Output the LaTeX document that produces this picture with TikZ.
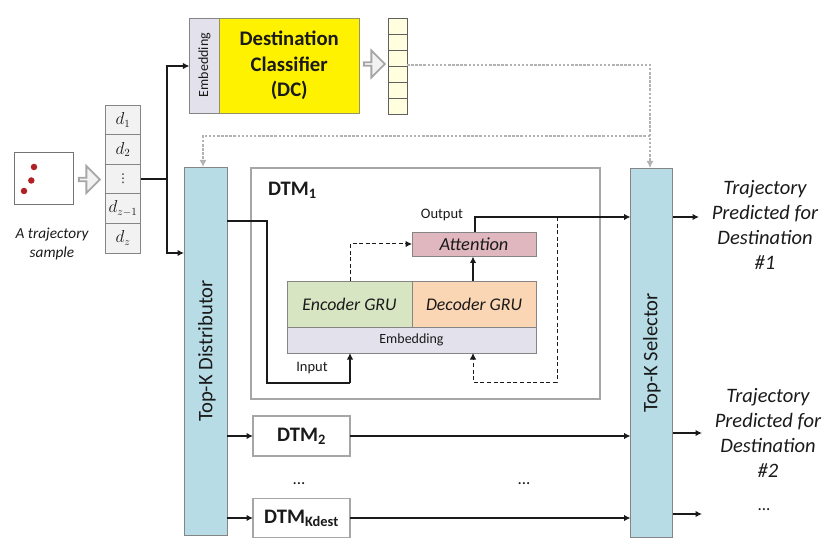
\documentclass[tikz,border=0pt]{standalone}
\usepackage{fontspec}
\setmainfont{Carlito}
\newfontfamily\symf{DejaVu Sans}
\usetikzlibrary{arrows.meta,shapes.arrows,shadows}
\definecolor{edge}{HTML}{A6A6A6}
\definecolor{inkc}{HTML}{1A1A1A}
\definecolor{embc}{HTML}{E3E1EC}
\definecolor{bluec}{HTML}{B7DCE6}
\definecolor{encc}{HTML}{D8E5C3}
\definecolor{decc}{HTML}{FBD6B5}
\definecolor{attc}{HTML}{E0B7BE}
\definecolor{cellc}{HTML}{F2F2F2}
\definecolor{creamc}{HTML}{FFFFE0}
\definecolor{dotc}{HTML}{B02025}
\tikzset{
 every node/.style={inner sep=0pt,outer sep=0pt,text=inkc},
 sized/.style n args={2}{minimum width=#1pt,minimum height=#2pt},
 cell/.style={draw=edge!80!black,line width=.8pt,fill=cellc,font=\fontsize{16}{16}\selectfont},
 cream/.style={draw=inkc!70,line width=.7pt,fill=creamc,sized={19}{16}},
 pane/.style={draw=edge!80!black,line width=.8pt},
 dtm/.style={draw=edge,line width=1.6pt,fill=white,font=\bfseries\fontsize{20.6}{20.6}\selectfont},
 flow/.style={draw=inkc,line width=1.3pt,-{Latex[length=6.5pt,width=6.5pt]}},
 plain/.style={draw=inkc,line width=1.3pt},
 dflow/.style={draw=inkc,line width=1pt,dash pattern=on 4pt off 2.6pt,-{Latex[length=6.5pt,width=6.5pt]}},
 gflow/.style={draw=edge!85,line width=1.1pt,dash pattern=on 2.5pt off 1.6pt,-{Latex[length=7pt,width=7pt]}},
 fat/.style={single arrow,draw=edge,line width=1.8pt,fill=cellc,single arrow head extend=6pt,single arrow tip angle=90,minimum width=27pt,minimum height=21pt},
 note/.style={font=\itshape\fontsize{20.5}{25}\selectfont,align=center},
 tiny/.style={font=\fontsize{14}{14}\selectfont},
 gru/.style={font=\itshape\fontsize{17.8}{17.8}\selectfont,pane},
 reddot/.style={circle,fill=dotc,minimum size=6.5pt},
}
\begin{document}
\begin{tikzpicture}[x=1pt,y=-1pt]
\useasboundingbox (0,0) rectangle (833,556);
% trajectory sample
\node[draw=edge!70!black,line width=.8pt,sized={59}{52}] (sample) at (43.5,178) {};
\node[reddot] (p1) at (34,167) {};
\node[reddot] (p2) at (31.3,180.5) {};
\node[reddot] (p3) at (24,191) {};
\node[font=\itshape\fontsize{15.3}{19}\selectfont,align=center] (samplelab) at (52,244) {A trajectory\\sample};
\node[fat] (fat1) at (88.5,179.5) {};
% d stack
\node[cell,sized={35}{29.6}] (d1) at (123,119.8) {$d_1$};
\node[cell,sized={35}{29.6}] (d2) at (123,149.4) {$d_2$};
\node[cell,sized={35}{29.6}] (d3) at (123,179) {\symf\fontsize{12}{12}\selectfont ⋮};
\node[cell,sized={35}{29.6}] (d4) at (123,208.6) {$d_{z-1}$};
\node[cell,sized={35}{29.6}] (d5) at (123,238.2) {$d_z$};
% destination classifier
\node[pane,fill=embc,sized={29.5}{95}] (emb0) at (204.2,65.5) {};
\node[rotate=90,tiny] (emb0t) at (204.5,65) {Embedding};
\node[draw=edge!80!yellow!80!black,line width=.9pt,fill=yellow,sized={140.5}{95},font=\bfseries\fontsize{20.7}{25.5}\selectfont,align=center] (dc) at (289.2,65.5) {Destination\\Classifier\\(DC)};
\node[fat] (fat2) at (373.5,64) {};
\node[cream] (c1) at (397.5,26.5) {};
\node[cream] (c2) at (397.5,42.5) {};
\node[cream] (c3) at (397.5,58.5) {};
\node[cream] (c4) at (397.5,74.5) {};
\node[cream] (c5) at (397.5,90.5) {};
\node[cream] (c6) at (397.5,106.5) {};
% distributor and selector
\node[pane,fill=bluec,sized={43}{368}] (dist) at (205.5,351) {};
\node[rotate=90,font=\fontsize{20.6}{20.6}\selectfont] (distt) at (207,351) {Top-K Distributor};
\node[pane,fill=bluec,sized={42}{369}] (sel) at (651.5,352.5) {};
\node[rotate=90,font=\fontsize{20.6}{20.6}\selectfont] (selt) at (652,353) {Top-K Selector};
% DTM1
\node[draw=edge,line width=1.6pt,sized={349}{231}] (dtm1) at (425.5,283.5) {};
\node[font=\bfseries\fontsize{20.6}{20.6}\selectfont,anchor=west] (dtm1t) at (268,190) {DTM\textsubscript{1}};
\node[gru,fill=encc,sized={125}{46}] (enc) at (349.5,304) {Encoder GRU};
\node[gru,fill=decc,sized={124}{46}] (dec) at (474,304) {Decoder GRU};
\node[pane,fill=embc,sized={249}{26},tiny] (emb1) at (411.5,340) {Embedding};
\node[pane,fill=attc,sized={124}{24},font=\itshape\fontsize{18.4}{18.4}\selectfont,drop shadow={shadow xshift=.6pt,shadow yshift=-1pt,opacity=.35}] (att) at (474,244.5) {Attention};
\node[font=\fontsize{14.5}{14.5}\selectfont] (outl) at (442,215) {Output};
\node[font=\fontsize{14.5}{14.5}\selectfont] (inl) at (312,368) {Input};
% other DTMs
\node[dtm,sized={97}{40}] (dtm2) at (301.5,436) {DTM\textsubscript{2}};
\node[dtm,sized={97}{39}] (dtmk) at (301.5,518) {DTM\textsubscript{Kdest}};
\node[font=\fontsize{17}{17}\selectfont] (dots1) at (299,484) {...};
\node[font=\fontsize{17}{17}\selectfont] (dots2) at (524,484) {...};
% outputs
\node[note] (o1) at (765,225) {Trajectory\\Predicted for\\Destination\\\#1};
\node[note] (o2) at (768,433) {Trajectory\\Predicted for\\Destination\\\#2};
\node[font=\fontsize{17}{17}\selectfont] (o3) at (764,510) {...};
% routing coordinates
\coordinate (split) at (167,179);
\coordinate (up) at (167,66);
\coordinate (down) at (167,253);
\coordinate (in1) at (267,221);
\coordinate (in2) at (267,383);
\coordinate (in3) at (350,383);
\coordinate (ou1) at (475,217);
\coordinate (ou2) at (557,217);
\coordinate (ou3) at (557,382);
\coordinate (ou4) at (473,382);
\coordinate (en1) at (350,244);
\coordinate (gd1) at (650,65);
\coordinate (gd2) at (650,136);
\coordinate (gd3) at (203,136);
% connectors
\draw[plain] (d3.east) -- (split);
\draw[flow] (split) -- (up) -- (emb0.west |- up);
\draw[flow] (split) -- (down) -- (dist.west |- down);
\draw[plain] (dist.east |- in1) -- (in1) -- (in2) -- (in3);
\draw[flow] (in3) -- (in3 |- emb1.south);
\draw[flow] (att.north -| ou1) -- (ou1) -- (sel.west |- ou1);
\draw[dflow] (ou2) -- (ou3) -- (ou4) -- (ou4 |- emb1.south);
\draw[dflow] (en1 |- enc.north) -- (en1) -- (att.west |- en1);
\draw[flow] (dec.north -| ou4) -- (ou4 |- att.south);
\draw[flow] (dist.east |- dtm2) -- (dtm2.west);
\draw[flow] (dist.east |- dtmk) -- (dtmk.west);
\draw[flow] (dtm2.east) -- (sel.west |- dtm2);
\draw[flow] (dtmk.east) -- (sel.west |- dtmk);
\coordinate (r1) at (699,217);
\coordinate (r2) at (702,433);
\coordinate (r3) at (702,514);
\draw[flow] (sel.east |- r1) -- (r1);
\draw[flow] (sel.east |- r2) -- (r2);
\draw[flow] (sel.east |- r3) -- (r3);
\draw[gflow] (c3.east |- gd1) -- (gd1) -- (gd1 |- sel.north);
\draw[gflow] (gd2) -- (gd3) -- (gd3 |- dist.north);
\end{tikzpicture}
\end{document}
